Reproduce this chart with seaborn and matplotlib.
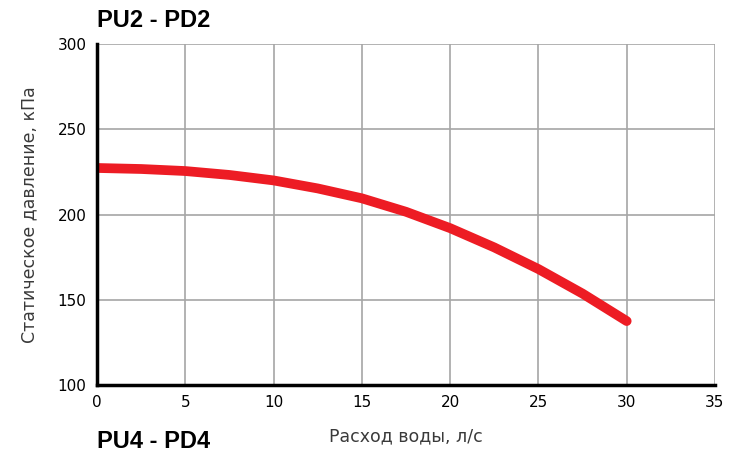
import pandas as pd
import matplotlib
matplotlib.use("Agg")
import matplotlib.pyplot as plt
import seaborn as sns

# Curve
flow = [0, 2.5, 5, 7.5, 10, 12.5, 15, 17.5, 20, 22.5, 25, 27.5, 30]
pressure = [227.3, 226.7, 225.5, 223.2, 220.0, 215.3, 209.5, 201.6, 192.0, 180.7, 168.0, 153.6, 137.5]
x_ticks = [0, 5, 10, 15, 20, 25, 30, 35]
y_ticks = [100, 150, 200, 250, 300]

df = pd.DataFrame({"flow": flow, "pressure": pressure})

sns.set_style("white")
plt.rcParams['font.family'] = ['DejaVu Sans']

fig = plt.figure(figsize=(7.39, 4.54), dpi=100)
ax = fig.add_axes([0.1313, 0.152, 0.8362, 0.751])

sns.lineplot(data=df, x="flow", y="pressure", ax=ax, color="#ED1C24",
             linewidth=7, solid_capstyle="round", solid_joinstyle="round", zorder=5)

ax.set_xlim(0, 35)
ax.set_ylim(100, 300)
ax.set_xticks(x_ticks)
ax.set_yticks(y_ticks)
ax.grid(True, color="#a6a6a6", linewidth=1.2)
ax.tick_params(axis="both", length=4, color="#a6a6a6", width=1.2,
               labelsize=11, labelcolor="black")

for s in ["top", "right"]:
    ax.spines[s].set_visible(False)
for s in ["left", "bottom"]:
    ax.spines[s].set_color("black")
    ax.spines[s].set_linewidth(2.5)
    ax.spines[s].set_zorder(6)

ax.set_xlabel("Расход воды, л/с", fontsize=12.5, color="#3a3a3a", labelpad=12)
ax.set_ylabel("Статическое давление, кПа", fontsize=12.5, color="#3a3a3a", labelpad=14)

fig.text(0.131, 0.955, "PU2 - PD2", fontsize=17, fontweight="bold", color="black",
         family=["Liberation Sans", "DejaVu Sans"], va="center", ha="left")
fig.text(0.131, 0.003, "PU4 - PD4", fontsize=17, fontweight="bold", color="black",
         family=["Liberation Sans", "DejaVu Sans"], va="bottom", ha="left")

fig.savefig("out.png", dpi=100)
